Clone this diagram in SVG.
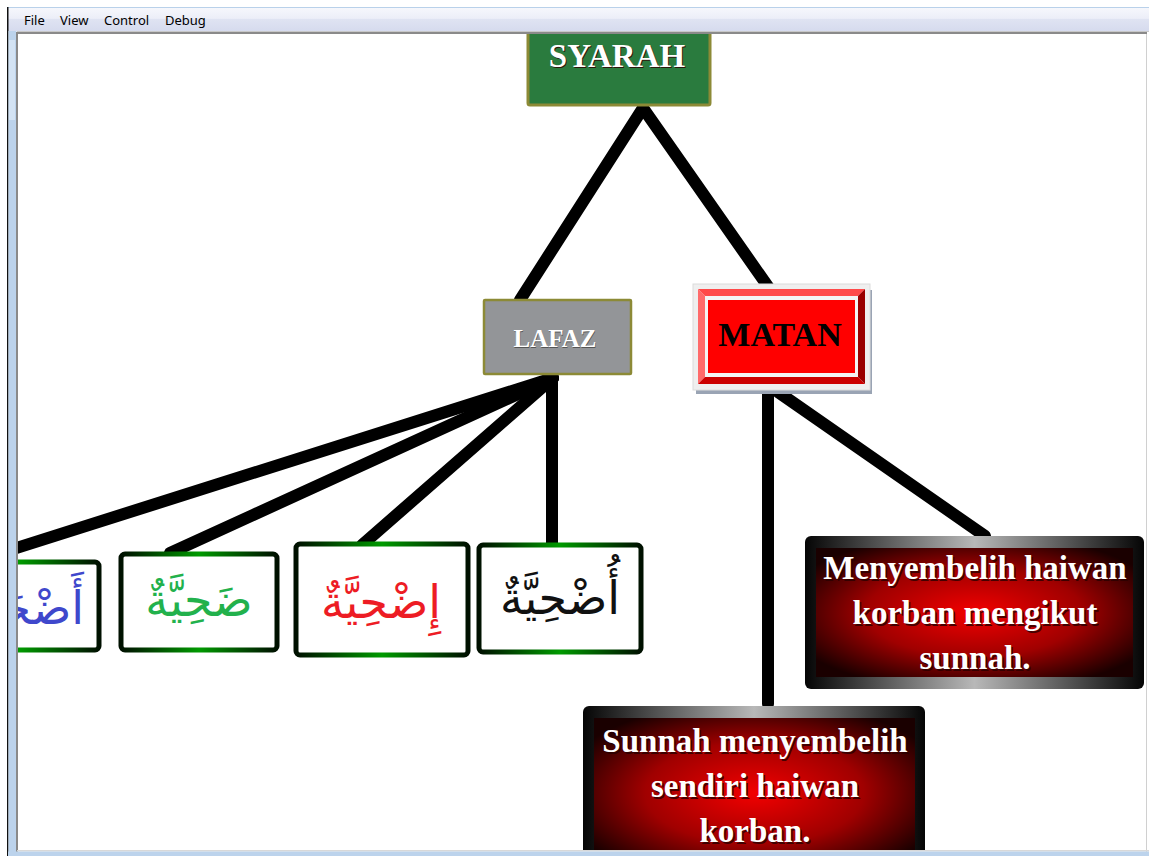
<svg xmlns="http://www.w3.org/2000/svg" width="1149" height="856" viewBox="0 0 1149 856">
<style>
.menu{font-family:"Segoe UI","Noto Sans","DejaVu Sans",sans-serif;font-size:13px;fill:#000}
.conn{stroke:#000;stroke-width:12;stroke-linecap:round;fill:none}
.ttl{font-family:"Liberation Serif","Times New Roman",serif;font-weight:bold;text-anchor:middle}
.wt{fill:#fff}
.sh{fill:#2a0000;opacity:0.8}
.ar{font-family:"DejaVu Sans","Noto Sans",sans-serif;font-size:46px;text-anchor:middle}
.abox{fill:#fff;stroke:url(#gborder);stroke-width:5}
.body{font-family:"Liberation Serif","Times New Roman",serif;font-weight:bold;font-size:33px;text-anchor:middle}
</style>
<defs>
<linearGradient id="gmenu" x1="0" y1="0" x2="0" y2="1">
<stop offset="0" stop-color="#f6f7fc"/><stop offset="0.45" stop-color="#eceef8"/><stop offset="0.5" stop-color="#dfe3f2"/><stop offset="1" stop-color="#d6dbee"/>
</linearGradient>
<linearGradient id="gborder" x1="0" y1="0" x2="1" y2="0">
<stop offset="0" stop-color="#001000"/><stop offset="0.5" stop-color="#009a00"/><stop offset="1" stop-color="#001000"/>
</linearGradient>
<linearGradient id="gframe" x1="0" y1="0" x2="1" y2="0">
<stop offset="0" stop-color="#050505"/><stop offset="0.5" stop-color="#b8b8b8"/><stop offset="1" stop-color="#050505"/>
</linearGradient>
<radialGradient id="gred" cx="0.5" cy="0.5" r="0.62">
<stop offset="0" stop-color="#f20000"/><stop offset="0.55" stop-color="#a00000"/><stop offset="1" stop-color="#1a0000"/>
</radialGradient>
<clipPath id="content"><rect x="18" y="34" width="1128" height="816"/></clipPath>
</defs>
<rect x="0" y="0" width="1149" height="856" fill="#fff"/>
<g clip-path="url(#content)">
<g id="connectors">
<line class="conn" x1="643" y1="108" x2="520" y2="300"/>
<line class="conn" x1="643" y1="108" x2="769" y2="288"/>
<line class="conn" x1="553" y1="378" x2="10" y2="550"/>
<line class="conn" x1="553" y1="378" x2="170" y2="553"/>
<line class="conn" x1="553" y1="378" x2="362" y2="545"/>
<line class="conn" x1="552" y1="378" x2="552" y2="545"/>
<line class="conn" x1="768" y1="392" x2="768" y2="704"/>
<line class="conn" x1="778" y1="392" x2="985" y2="536"/>
</g>
<g id="syarah">
<rect x="528" y="18" width="182" height="87" rx="2" fill="#2a7b3e" stroke="#8c8a36" stroke-width="3"/>
<text class="ttl sh" x="618" y="68" font-size="33">SYARAH</text>
<text class="ttl wt" x="617" y="67" font-size="33">SYARAH</text>
</g>
<g id="lafaz">
<rect x="484" y="300" width="147" height="74" rx="1" fill="#939598" stroke="#8c8a36" stroke-width="2.5"/>
<text class="ttl" x="555.5" y="347.5" font-size="25" fill="#555">LAFAZ</text>
<text class="ttl wt" x="555" y="347" font-size="25">LAFAZ</text>
</g>
<g id="matan">
<rect x="696" y="290" width="176" height="104" fill="#9aa4b4"/>
<rect x="693" y="284" width="177" height="106" fill="#efefef" stroke="#dcdcdc" stroke-width="1"/>
<polygon points="698,289 865,289 858,296 705,296" fill="#ff4a4a"/>
<polygon points="698,289 705,296 705,377 698,384" fill="#ff6b6b"/>
<polygon points="865,289 865,384 858,377 858,296" fill="#9a0000"/>
<polygon points="698,384 705,377 858,377 865,384" fill="#cc0000"/>
<rect x="705" y="296" width="153" height="81" fill="#f4f4f4"/>
<rect x="708" y="300" width="147" height="73" fill="#ff0000"/>
<text class="ttl" x="780" y="346" font-size="34" fill="#000">MATAN</text>
</g>
<g id="ar1">
<rect class="abox" x="-60" y="562" width="159" height="88" rx="4"/>
<text class="ar" x="84" y="624" fill="#3f48cc" style="text-anchor:end">أَضْحَاةٌ</text>
</g>
<g id="ar2">
<rect class="abox" x="121" y="554" width="156" height="96" rx="4"/>
<text class="ar" x="199" y="616" fill="#22b14c">ضَحِيَّةٌ</text>
</g>
<g id="ar3">
<rect class="abox" x="296" y="544" width="172" height="111" rx="4"/>
<text class="ar" x="381" y="618" fill="#ed1c24">إِضْحِيَّةٌ</text>
</g>
<g id="ar4">
<rect class="abox" x="479" y="545" width="162" height="107" rx="4"/>
<text class="ar" x="560" y="614" fill="#111">أُضْحِيَّةٌ</text>
</g>
<g id="matanA">
<rect x="805" y="536" width="339" height="153" rx="6" fill="url(#gframe)"/>
<rect x="816" y="548" width="317" height="129" fill="url(#gred)"/>
<text class="body sh" x="976.5" y="580.5">Menyembelih haiwan</text>
<text class="body wt" x="975" y="579">Menyembelih haiwan</text>
<text class="body sh" x="976.5" y="625.5">korban mengikut</text>
<text class="body wt" x="975" y="624">korban mengikut</text>
<text class="body sh" x="976.5" y="670.5">sunnah.</text>
<text class="body wt" x="975" y="669">sunnah.</text>
</g>
<g id="matanB">
<rect x="583" y="706" width="342" height="170" rx="6" fill="url(#gframe)"/>
<rect x="594" y="718" width="321" height="150" fill="url(#gred)"/>
<text class="body sh" x="756.5" y="753.5">Sunnah menyembelih</text>
<text class="body wt" x="755" y="752">Sunnah menyembelih</text>
<text class="body sh" x="756.5" y="798.5">sendiri haiwan</text>
<text class="body wt" x="755" y="797">sendiri haiwan</text>
<text class="body sh" x="756.5" y="843.5">korban.</text>
<text class="body wt" x="755" y="842">korban.</text>
</g>
</g>
<g id="window">
<rect x="7" y="7" width="1142" height="1" fill="#b9d1ea"/>
<rect x="8" y="8" width="1141" height="23" fill="url(#gmenu)"/>
<rect x="17" y="31" width="1132" height="1" fill="#c8c8c8"/>
<rect x="17" y="32" width="1130" height="2" fill="#8a8a8a"/>
<rect x="7" y="7" width="1.5" height="849" fill="#111"/>
<rect x="8.5" y="31" width="8" height="825" fill="#bcd3ec"/>
<rect x="9" y="40" width="6" height="80" fill="#d3e3f4"/>
<rect x="16" y="32" width="2" height="820" fill="#8a8a8a"/>
<rect x="1146" y="34" width="1" height="818" fill="#d0d0d0"/>
<rect x="17" y="850" width="1132" height="1.5" fill="#d8d8d8"/>
<rect x="8" y="851.5" width="1141" height="4.5" fill="#bcd3ec"/>
<text class="menu" x="24" y="25">File</text>
<text class="menu" x="60" y="25">View</text>
<text class="menu" x="104" y="25">Control</text>
<text class="menu" x="165" y="25">Debug</text>
</g>
</svg>
